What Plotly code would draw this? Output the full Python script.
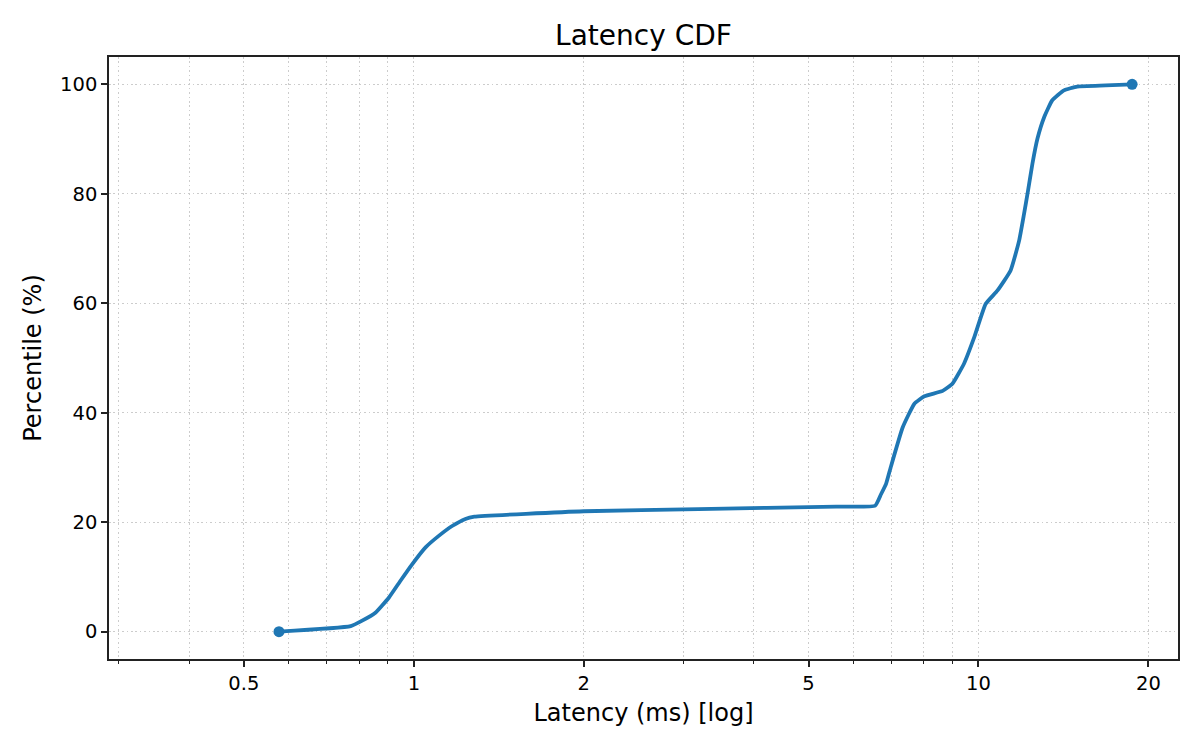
import math
import plotly.graph_objects as go

latency_ms = [0.577, 0.773, 0.810, 0.856, 0.903, 0.947, 0.993, 1.049, 1.107, 1.169,
              1.234, 1.280, 2.0, 3.19, 5.6, 6.56, 6.72, 6.86, 6.99, 7.34, 7.70, 8.02,
              8.64, 8.99, 9.43, 9.83, 10.30, 10.80, 11.40, 11.80, 12.04, 12.24,
              12.46, 12.72, 13.07, 13.51, 14.17, 14.96, 16.8, 18.71]
percentile = [0.0, 1.0, 2.0, 3.5, 6.2, 9.3, 12.3, 15.4, 17.5, 19.3,
              20.6, 21.0, 22.0, 22.4, 22.85, 23.0, 25.1, 27.0, 30.0, 37.3, 41.65, 43.0,
              44.0, 45.3, 49.0, 53.8, 59.9, 62.3, 66.0, 71.4, 76.3, 80.6,
              85.5, 90.1, 94.0, 97.1, 98.9, 99.6, 99.8, 100.0]

x_tickvals = [0.5, 1, 2, 5, 10, 20]
x_ticktext = ["0.5", "1", "2", "5", "10", "20"]
x_minorvals = [0.3, 0.4, 0.6, 0.7, 0.8, 0.9, 3, 4, 6, 7, 8, 9]
y_tickvals = [0, 20, 40, 60, 80, 100]

x_range = [0.2885, 22.56]
y_range = [-5, 105]

color = "#1f77b4"
font = "DejaVu Sans"
grid_color = "#cccccc"
grid_dash = "1.6px,2.8px"
frame = "#222222"

W, H = 1184, 734
ML, MR, MT, MB = 101, 14, 49, 83

fig = go.Figure()
fig.add_trace(go.Scatter(x=latency_ms, y=percentile, mode="lines",
                         line=dict(color=color, width=3.8, shape="spline", smoothing=0.4),
                         showlegend=False))
fig.add_trace(go.Scatter(x=[latency_ms[0], latency_ms[-1]], y=[percentile[0], percentile[-1]],
                         mode="markers", marker=dict(color=color, size=11), showlegend=False))

fig.update_layout(
    width=W, height=H,
    margin=dict(l=ML, r=MR, t=MT, b=MB),
    paper_bgcolor="white", plot_bgcolor="white",
    font=dict(family=font, color="black", size=19.5),
    title=dict(text="Latency CDF", x=(ML + (W - MR)) / 2 / W, xanchor="center",
               y=1 - 27 / H, yanchor="middle", yref="container",
               font=dict(size=28, family=font, color="black")),
)
fig.update_xaxes(
    type="log", range=[math.log10(x_range[0]), math.log10(x_range[1])],
    tickmode="array", tickvals=x_tickvals, ticktext=x_ticktext,
    ticks="outside", ticklen=6, tickwidth=1.5, tickcolor=frame,
    showline=True, linecolor=frame, linewidth=1.6, mirror=True,
    showgrid=True, gridcolor=grid_color, griddash=grid_dash, gridwidth=1.2,
    zeroline=False,
    minor=dict(tickmode="array", tickvals=x_minorvals, ticks="outside", ticklen=3.5,
               tickwidth=1.2, tickcolor=frame, showgrid=True, gridcolor=grid_color,
               griddash=grid_dash, gridwidth=1.2),
    title=dict(text="Latency (ms) [log]", font=dict(size=24, family=font), standoff=10),
    tickfont=dict(size=19.5, family=font),
)
fig.update_yaxes(
    range=y_range, tickmode="array", tickvals=y_tickvals,
    ticks="outside", ticklen=6, tickwidth=1.5, tickcolor=frame,
    showline=True, linecolor=frame, linewidth=1.6, mirror=True,
    showgrid=True, gridcolor=grid_color, griddash=grid_dash, gridwidth=1.2,
    zeroline=False,
    title=dict(text="Percentile (%)", font=dict(size=24, family=font), standoff=12),
    tickfont=dict(size=19.5, family=font),
)

fig.write_html("out.html")
